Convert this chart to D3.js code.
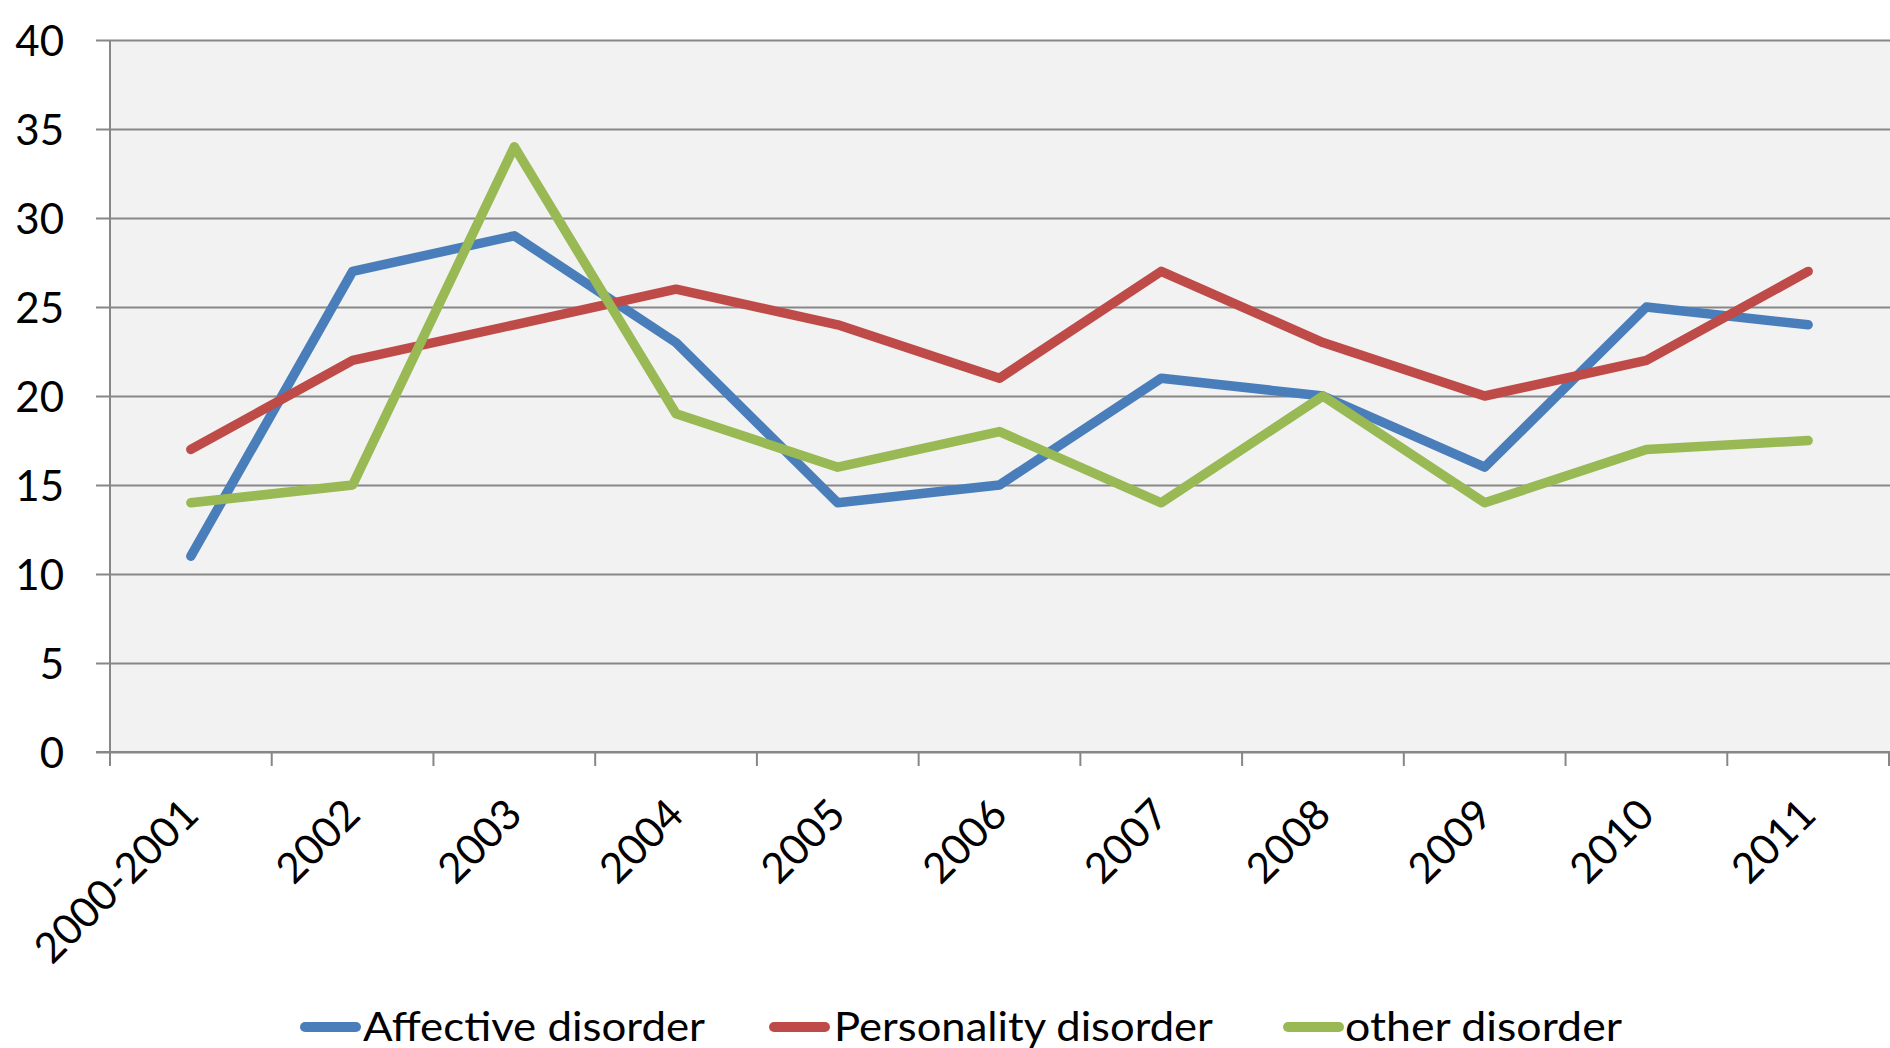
<!DOCTYPE html>
<html>
<head>
<meta charset="utf-8">
<script src="https://cdn.jsdelivr.net/npm/d3@7"></script>
<style>
  html, body { margin: 0; padding: 0; background: #ffffff; }
  svg { display: block; }
  text { font-family: Lato, "Open Sans", "Liberation Sans", sans-serif; fill: #000; }
</style>
</head>
<body>
<svg id="chart" width="1890" height="1048"></svg>
<script>
// Category labels along the x axis
const categories = ["2000-2001", "2002", "2003", "2004", "2005", "2006", "2007", "2008", "2009", "2010", "2011"];

// Series values per category
const affective   = [11, 27, 29, 23, 14, 15, 21, 20, 16, 25, 24];
const personality = [17, 22, 24, 26, 24, 21, 27, 23, 20, 22, 27];
const other       = [14, 15, 34, 19, 16, 18, 14, 20, 14, 17, 17.5];

const seriesNames  = ["Affective disorder", "Personality disorder", "other disorder"];
const seriesColors = ["#4a7ebb", "#be4b48", "#98b954"];

// Y axis tick values
const yTicks = [0, 5, 10, 15, 20, 25, 30, 35, 40];

const series = [affective, personality, other].map((values, i) => ({
  name: seriesNames[i], color: seriesColors[i], values
}));

const svg = d3.select("#chart");
const plot = { left: 110, right: 1889, top: 40, bottom: 752 };

const x = d3.scaleBand().domain(categories).range([plot.left, plot.right]).padding(0);
const y = d3.scaleLinear().domain([0, 40]).range([plot.bottom, plot.top]);
const cx = c => x(c) + x.bandwidth() / 2;

const gridColor = "#878787";

// plot area background
svg.append("rect")
  .attr("x", plot.left).attr("y", plot.top)
  .attr("width", 1890 - plot.left).attr("height", plot.bottom - plot.top)
  .attr("fill", "#f2f2f2");

// horizontal gridlines + y axis
const yAxis = d3.axisLeft(y)
  .tickValues(yTicks)
  .tickSize(-(1890 - plot.left))
  .tickSizeOuter(0)
  .tickPadding(0)
  .tickFormat(d3.format("d"));

const gy = svg.append("g")
  .attr("transform", `translate(${plot.left},0)`)
  .call(yAxis);
gy.select(".domain").remove();
gy.selectAll(".tick line")
  .attr("x1", -14)
  .attr("stroke", gridColor)
  .attr("stroke-width", 2);
gy.selectAll(".tick text")
  .attr("x", -46)
  .attr("dy", "0.36em")
  .attr("text-anchor", "end")
  .style("font-size", "42px")
  .style("font-family", "Lato, 'Open Sans', sans-serif")
  .attr("fill", "#000");

// left axis line
svg.append("line")
  .attr("x1", plot.left).attr("x2", plot.left)
  .attr("y1", plot.top).attr("y2", plot.bottom + 14)
  .attr("stroke", gridColor).attr("stroke-width", 2);

// x axis baseline and category boundary ticks
svg.append("line")
  .attr("x1", plot.left - 14).attr("x2", 1890)
  .attr("y1", plot.bottom).attr("y2", plot.bottom)
  .attr("stroke", gridColor).attr("stroke-width", 2);

const boundaries = categories.map(c => x(c)).concat([plot.right]);
svg.append("g").selectAll("line")
  .data(boundaries.slice(1))
  .join("line")
  .attr("x1", d => d).attr("x2", d => d)
  .attr("y1", plot.bottom).attr("y2", plot.bottom + 14)
  .attr("stroke", gridColor).attr("stroke-width", 2);

// rotated category labels
svg.append("g").selectAll("text")
  .data(categories)
  .join("text")
  .attr("transform", d => `translate(${cx(d) + 10},817) rotate(-45)`)
  .attr("text-anchor", "end")
  .style("font-size", "42px")
  .text(d => d);

// series lines
const line = d3.line()
  .x((d, i) => cx(categories[i]))
  .y(d => y(d));

svg.append("g").selectAll("path")
  .data(series)
  .join("path")
  .attr("d", s => line(s.values))
  .attr("fill", "none")
  .attr("stroke", s => s.color)
  .attr("stroke-width", 9.5)
  .attr("stroke-linecap", "round")
  .attr("stroke-linejoin", "round");

// legend
const legendItems = [
  { swatch: 300, text: 363, width: 342 },
  { swatch: 769, text: 834, width: 379 },
  { swatch: 1283, text: 1345, width: 277 }
];
const legend = svg.append("g");
series.forEach((s, i) => {
  const it = legendItems[i];
  legend.append("line")
    .attr("x1", it.swatch + 5).attr("x2", it.swatch + 56)
    .attr("y1", 1027).attr("y2", 1027)
    .attr("stroke", s.color)
    .attr("stroke-width", 10)
    .attr("stroke-linecap", "round");
  legend.append("text")
    .attr("x", it.text).attr("y", 1041)
    .attr("textLength", it.width)
    .attr("lengthAdjust", "spacingAndGlyphs")
    .style("font-size", "41px")
    .text(s.name);
});
</script>
</body>
</html>
